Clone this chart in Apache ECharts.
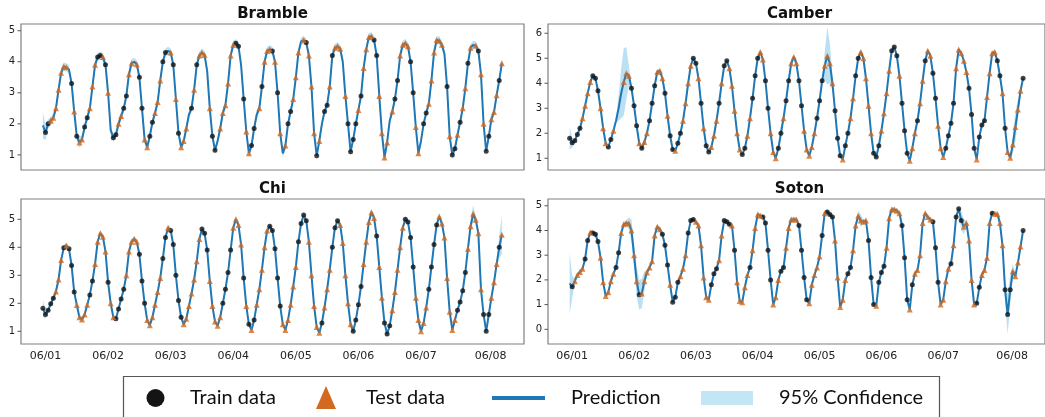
<!DOCTYPE html>
<html>
<head>
<meta charset="utf-8">
<script src="https://cdn.jsdelivr.net/npm/echarts@6.0.0/dist/echarts.min.js"></script>
<style>
  html, body { margin: 0; padding: 0; background: #ffffff; }
  #chart { width: 1045px; height: 417px; }
</style>
</head>
<body>
<div id="chart"></div>
<script>
// Hourly water level (m) at four Solent stations, first sample 05/31 23:00.
const firstHour = -1;                       // hours relative to 06/01 00:00
const dayTicks = [0, 24, 48, 72, 96, 120, 144, 168];
const dayLabels = ['06/01', '06/02', '06/03', '06/04', '06/05', '06/06', '06/07', '06/08'];

const brambleLevel = [
  1.95,1.72,2.0,2.1,2.2,2.5,3.1,3.65,3.85,3.82,3.75,3.3,2.4,1.6,1.4,1.5,1.9,2.2,2.5,3.2,3.9,4.15,4.2,4.15,3.9,3.0,1.8,1.55,1.65,2.0,
  2.25,2.5,2.9,3.6,3.95,4.0,3.92,3.5,2.5,1.5,
  1.25,1.6,2.05,2.35,2.7,3.4,4.0,4.3,4.35,4.3,
  3.9,2.8,1.7,1.25,1.45,1.85,2.3,2.5,3.1,3.9,
  4.2,4.3,4.22,3.7,2.5,1.6,1.15,1.45,1.85,2.35,
  2.6,3.3,4.2,4.55,4.6,4.5,3.9,2.8,1.75,1.05,
  1.3,1.85,2.3,2.5,3.2,4.0,4.35,4.4,4.35,4.0,
  3.0,1.7,1.05,1.3,2.0,2.4,2.8,3.5,4.3,4.65,
  4.7,4.62,4.2,3.2,1.7,0.97,1.45,2.0,2.4,2.6,
  3.2,4.2,4.45,4.5,4.42,4.0,2.9,2.0,1.1,1.5,
  2.0,2.45,2.9,3.8,4.4,4.8,4.82,4.7,4.2,2.9,
  1.7,0.92,1.4,2.1,2.4,2.8,3.4,4.2,4.55,4.6,
  4.5,4.0,3.0,1.9,1.05,1.45,2.0,2.35,2.65,3.4,
  4.3,4.7,4.68,4.55,4.25,3.2,1.6,1.0,1.2,1.65,
  2.05,2.5,3.15,3.95,4.45,4.54,4.52,4.35,3.6,2.0,
  1.12,1.6,2.15,2.38,2.92,3.4,3.95
];
const camberLevel = [
  1.8,1.62,1.7,1.95,2.2,2.6,3.1,3.6,4.05,4.3,
  4.2,3.7,3.0,2.2,1.6,1.45,1.75,2.1,2.5,3.0,
  3.6,4.05,4.4,4.3,3.8,3.1,2.3,1.6,1.4,1.65,
  2.0,2.5,3.2,3.9,4.45,4.5,4.2,3.6,2.7,1.9,
  1.35,1.3,1.6,2.0,2.5,3.2,4.0,4.7,5.0,4.8,
  4.2,3.2,2.2,1.5,1.25,1.45,1.9,2.5,3.2,4.0,
  4.7,4.9,4.6,3.9,2.9,2.0,1.35,1.15,1.4,1.9,
  2.6,3.4,4.3,5.0,5.25,4.95,4.1,3.0,2.0,1.25,
  1.0,1.4,2.0,2.6,3.3,4.1,4.8,5.05,4.8,4.1,
  3.1,2.1,1.35,1.1,1.45,2.0,2.6,3.3,4.1,4.7,
  5.1,4.8,4.0,2.9,1.8,1.1,0.95,1.5,2.0,2.6,
  3.4,4.3,5.0,5.25,5.0,4.2,3.1,2.0,1.2,1.05,
  1.5,2.1,2.8,3.6,4.5,5.3,5.45,5.1,4.3,3.2,
  2.1,1.2,0.9,1.4,2.0,2.5,3.2,4.1,4.9,5.3,
  5.1,4.4,3.4,2.3,1.4,1.05,1.4,1.9,2.4,3.2,
  4.6,5.35,5.2,4.9,4.45,3.8,2.75,1.4,0.95,1.85,
  2.33,2.5,3.45,4.4,5.2,5.25,4.9,4.3,3.6,2.2,
  1.25,1.02,1.55,2.25,2.95,3.7,4.2
];
const chiLevel = [
  1.82,1.6,1.75,1.98,2.18,2.42,2.85,3.55,3.98,4.06,3.95,
  3.35,2.4,1.94,1.5,1.42,1.6,1.95,2.3,2.8,3.4,
  4.2,4.5,4.38,3.85,2.75,2.0,1.5,1.45,1.8,2.15,
  2.5,3.0,3.85,
  4.2,4.3,4.2,3.75,2.8,2.0,1.4,1.22,1.5,1.95,
  2.4,2.9,3.6,4.35,4.7,4.6,4.1,3.0,2.1,1.5,
  1.25,1.45,1.9,2.35,2.85,3.5,4.3,4.65,4.5,3.9,
  2.8,1.9,1.35,1.2,1.5,2.0,2.5,3.1,3.9,4.7,
  5.0,4.8,4.1,2.9,1.9,1.25,1.05,1.4,1.95,2.5,
  3.2,4.0,4.6,4.75,4.6,3.95,2.9,1.9,1.25,1.05,
  1.4,1.95,2.6,3.3,4.2,4.85,5.15,4.95,4.2,3.0,
  1.9,1.15,0.95,1.3,1.85,2.5,3.2,4.0,4.7,4.95,
  4.8,4.15,3.0,2.0,1.25,1.0,1.4,1.95,2.6,3.4,
  4.2,4.9,5.25,5.05,4.4,3.3,2.2,1.3,0.9,1.2,
  1.75,2.4,3.2,4.0,4.7,5.0,4.9,4.35,3.3,2.2,
  1.4,1.0,1.3,1.85,2.5,3.3,4.1,4.8,5.1,4.85,
  4.35,2.9,1.7,1.05,1.4,1.75,2.05,2.45,3.1,3.95,
  4.75,5.2,4.98,4.5,2.5,1.6,1.0,1.6,2.2,2.75,
  3.4,4.0,4.45
];
const sotonLevel = [
  1.86,1.72,1.95,2.2,2.32,2.45,2.85,3.6,3.92,3.9,
  3.85,3.55,2.9,1.9,1.35,1.5,1.95,2.25,2.5,3.1,
  3.9,4.25,4.3,4.28,4.0,3.0,1.95,1.4,1.45,1.95,
  2.3,2.5,2.75,3.8,4.15,
  4.05,3.85,3.4,2.6,1.8,1.1,1.3,1.9,2.15,2.45,
  3.0,3.9,4.4,4.45,4.35,4.2,3.4,2.1,1.3,1.2,
  1.8,2.25,2.45,2.8,3.8,4.4,4.35,4.25,4.2,3.2,
  1.9,1.15,1.1,1.7,2.2,2.5,3.2,4.1,4.65,4.6,
  4.55,4.3,3.2,2.0,1.0,1.3,2.0,2.35,2.5,3.3,
  4.1,4.45,4.45,4.45,4.2,3.2,2.1,1.2,1.05,1.8,
  2.2,2.5,2.95,3.8,4.7,4.75,4.65,4.55,3.6,2.1,
  0.9,1.2,2.0,2.25,2.5,3.2,4.2,4.6,4.4,4.35,
  4.4,3.6,2.1,1.0,0.95,1.9,2.3,2.55,3.3,4.5,
  4.85,4.85,4.8,4.7,4.2,2.9,1.2,0.8,1.8,2.25,
  2.4,3.0,4.3,4.7,4.55,4.45,4.35,3.3,1.9,1.0,
  1.2,1.95,
  2.45,2.65,3.4,4.55,4.88,4.4,4.15,4.3,3.6,2.0,
  1.0,1.05,1.7,2.2,2.4,2.9,4.3,4.7,4.68,4.67,
  4.3,3.4,1.6,0.6,1.6,2.35,2.15,2.7,3.35,4.0
];

// Which hourly samples were used for training (k) or held out for testing (o); '-' = no sample.
const brambleSplit = '-kkooooooo -kokookkoo okkoko-kko okkoo-okko okkoookk-o kokooo-kok ooo-okk-oo ooookk-koo kk-okoooko ko-okkooo- okoooko-kk okooo-okkk kokooookko ooo-okkooo okkoo-kkoo oooo-kokko kooko-okoo kkoooko';
const camberSplit  = 'kkkkkooook kkoookko-- -oookkkoko okkkoookok kokkooookk okokkoooko kkoooookko okkkookkoo okkokkoook koooookkko oookkkokko okkoooookk kooookkkok kkoookooko okkoookkkk oooookkkok kkooookkok ooooook';
const chiSplit     = 'kkkkkoooko kkkoooookk oooookookk kkoooookkk ooooookkok kkkkoooooo okkkoooook kkkooookok okoooookkk kkooooookk kkoooookoo okkkoooook kkkoooooko okkkoooook kkkoooookk kkoooooook kkkooooook kkoooko';
const sotonSplit   = '-kooookkok kkooooookk oooooookoo ooooookkko kkkoookkko oooookkkoo kkkokooooo kooookkkko ookkoooook kkkoooooko kkkoooookk ooooookkko kkkooooook kkokoooooo okkkooooko kkkoooookk ooookooook kkooook';

// Half-width of the 95% interval: a typical value plus the hours where it opens up.
const brambleBand = { base: 0.13, wide: [[-1, 0.42], [0, 0.25], [1, 0.15], [13, 0.18], [130, 0.16]] };
const camberBand  = { base: 0.08, wide: [[-1, 0.45], [0, 0.2], [18, 0.5], [19, 1.0], [20, 1.35], [21, 1.05], [22, 0.4], [81, 0.3], [98, 0.55], [99, 1.15], [100, 0.8], [101, 0.3], [171, 0.35], [172, 0.6], [173, 0.4]] };
const chiBand     = { base: 0.1,  wide: [[-1, 0.3], [0, 0.15], [163, 0.22], [164, 0.3], [174, 0.4], [175, 0.7]] };
const sotonBand   = { base: 0.1,  wide: [[-1, 1.25], [0, 0.45], [22, 0.25], [23, 0.45], [24, 0.5], [25, 0.6], [26, 0.6], [27, 0.6], [28, 0.4], [111, 0.2], [112, 0.25], [151, 0.4], [152, 0.3], [154, 0.25], [166, 0.25], [168, 0.5], [169, 0.8], [170, 0.6], [171, 0.3], [174, 0.2]] };

const COLORS = { line: '#1f77b4', band: '#b9e1f3', train: '#141414', test: '#d2691e', frame: '#808080', text: '#222222' };

const panels = [
  { title: 'Bramble', level: brambleLevel, split: brambleSplit, band: brambleBand,
    grid: { left: 21, top: 24, width: 503, height: 146 }, y: { min: 0.514, max: 5.216, ticks: [1, 2, 3, 4, 5] }, dates: false, titleX: 272.5, titleY: 14 },
  { title: 'Camber', level: camberLevel, split: camberSplit, band: camberBand,
    grid: { left: 548, top: 24, width: 503, height: 146 }, y: { min: 0.53, max: 6.37, ticks: [1, 2, 3, 4, 5, 6] }, dates: false, titleX: 799.5, titleY: 14 },
  { title: 'Chi', level: chiLevel, split: chiSplit, band: chiBand,
    grid: { left: 21, top: 199, width: 503, height: 145 }, y: { min: 0.546, max: 5.725, ticks: [1, 2, 3, 4, 5] }, dates: true, titleX: 272.5, titleY: 189 },
  { title: 'Soton', level: sotonLevel, split: sotonSplit, band: sotonBand,
    grid: { left: 548, top: 199, width: 503, height: 145 }, y: { min: -0.595, max: 5.275, ticks: [0, 1, 2, 3, 4, 5] }, dates: true, titleX: 799.5, titleY: 189 }
];

const X_MIN = -9.4, X_MAX = 183.5;

const grids = [], xAxes = [], yAxes = [], series = [], graphics = [];

panels.forEach((p, gi) => {
  grids.push(Object.assign({ show: true, borderColor: COLORS.frame, borderWidth: 1.2, backgroundColor: 'transparent' }, p.grid));

  xAxes.push({
    type: 'value', gridIndex: gi, min: X_MIN, max: X_MAX,
    axisLine: { show: false }, splitLine: { show: false }, axisTick: { show: false },
    axisLabel: {
      show: p.dates, customValues: dayTicks, margin: 7,
      formatter: v => {
        const k = dayTicks.indexOf(v);
        if (k < 0) return '';
        return k === dayTicks.length - 1 ? '{last|' + dayLabels[k] + '}' : dayLabels[k];
      },
      rich: { last: { padding: [0, 0, 0, 14], fontFamily: 'DejaVu Sans', fontSize: 11, color: COLORS.text } },
      fontFamily: 'DejaVu Sans', fontSize: 11, color: COLORS.text
    }
  });
  yAxes.push({
    type: 'value', gridIndex: gi, min: p.y.min, max: p.y.max,
    axisLine: { show: false }, splitLine: { show: false }, axisTick: { show: false },
    axisLabel: { customValues: p.y.ticks, margin: 6, fontFamily: 'DejaVu Sans', fontSize: 10, color: COLORS.text }
  });

  const hours = p.level.map((_, i) => firstHour + i);
  const half = p.level.map(() => p.band.base);
  p.band.wide.forEach(([h, w]) => { half[h - firstHour] = w; });
  const upper = p.level.map((v, i) => [hours[i], v + half[i]]);
  const lower = p.level.map((v, i) => [hours[i], v - half[i]]);

  const flags = p.split.replace(/\s/g, '');
  const train = [], test = [];
  p.level.forEach((v, i) => {
    if (flags[i] === 'k') train.push([hours[i], v]);
    else if (flags[i] === 'o') test.push([hours[i], v]);
  });

  // confidence band: one polygon through the upper edge and back along the lower edge
  series.push({
    type: 'custom', name: '95% Confidence', xAxisIndex: gi, yAxisIndex: gi, z: 1, silent: true,
    data: [0],
    renderItem: (params, api) => {
      const pts = upper.map(d => api.coord(d)).concat(lower.slice().reverse().map(d => api.coord(d)));
      return { type: 'polygon', shape: { points: pts }, style: { fill: COLORS.band, stroke: null } };
    }
  });
  series.push({
    type: 'line', name: 'Prediction', xAxisIndex: gi, yAxisIndex: gi, z: 2, silent: true,
    data: p.level.map((v, i) => [hours[i], v]), showSymbol: false, symbol: 'none',
    lineStyle: { color: COLORS.line, width: 2 }
  });
  series.push({
    type: 'scatter', name: 'Train data', xAxisIndex: gi, yAxisIndex: gi, z: 3, silent: true,
    data: train, symbol: 'circle', symbolSize: 5, itemStyle: { color: COLORS.train }
  });
  series.push({
    type: 'scatter', name: 'Test data', xAxisIndex: gi, yAxisIndex: gi, z: 4, silent: true,
    data: test, symbol: 'triangle', symbolSize: 6, itemStyle: { color: COLORS.test }
  });

  graphics.push({
    type: 'text', x: p.titleX, y: p.titleY, silent: true,
    style: { text: p.title, fill: '#111', font: 'bold 15px "DejaVu Sans"', textAlign: 'center', textVerticalAlign: 'middle' }
  });
});

// legend box along the bottom
const legendFont = '20px Lato';
graphics.push(
  { type: 'rect', shape: { x: 123.5, y: 376.5, width: 816, height: 60 }, style: { fill: 'none', stroke: '#555', lineWidth: 1.2 }, silent: true },
  { type: 'circle', shape: { cx: 155.5, cy: 398, r: 9 }, style: { fill: COLORS.train }, silent: true },
  { type: 'text', x: 190, y: 398, style: { text: 'Train data', font: legendFont, fill: '#111', textVerticalAlign: 'middle' }, silent: true },
  { type: 'polygon', shape: { points: [[326, 386], [316, 409], [336, 409]] }, style: { fill: COLORS.test }, silent: true },
  { type: 'text', x: 366, y: 398, style: { text: 'Test data', font: legendFont, fill: '#111', textVerticalAlign: 'middle' }, silent: true },
  { type: 'rect', shape: { x: 492, y: 396, width: 53, height: 4 }, style: { fill: COLORS.line }, silent: true },
  { type: 'text', x: 571, y: 398, style: { text: 'Prediction', font: legendFont, fill: '#111', textVerticalAlign: 'middle' }, silent: true },
  { type: 'rect', shape: { x: 701, y: 391, width: 52, height: 14 }, style: { fill: '#c3e6f5' }, silent: true },
  { type: 'text', x: 779, y: 398, style: { text: '95% Confidence', font: legendFont, fill: '#111', textVerticalAlign: 'middle' }, silent: true }
);

const chart = echarts.init(document.getElementById('chart'), null, { renderer: 'canvas' });
chart.setOption({
  animation: false,
  backgroundColor: '#ffffff',
  grid: grids, xAxis: xAxes, yAxis: yAxes, series: series, graphic: graphics
});

// short outward tick marks on each value axis, placed through the axis scale
const tickMarks = [];
panels.forEach((p, gi) => {
  p.y.ticks.forEach(t => {
    const py = chart.convertToPixel({ yAxisIndex: gi }, t);
    tickMarks.push({ type: 'line', silent: true, shape: { x1: p.grid.left - 3.5, y1: py, x2: p.grid.left, y2: py }, style: { stroke: '#555', lineWidth: 1 } });
  });
});
chart.setOption({ graphic: graphics.concat(tickMarks) });
</script>
</body>
</html>
